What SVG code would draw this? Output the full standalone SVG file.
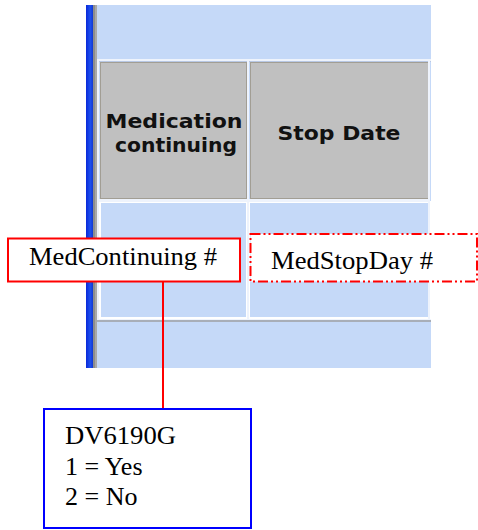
<svg xmlns="http://www.w3.org/2000/svg" width="478" height="530" viewBox="0 0 478 530">
  <defs>
    <linearGradient id="stripe" x1="0" y1="0" x2="1" y2="0">
      <stop offset="0" stop-color="#0a28d8"/>
      <stop offset="0.6" stop-color="#1c50f0"/>
      <stop offset="1" stop-color="#1238d0"/>
    </linearGradient>
  </defs>
  <style>
    .hdr { font-family: "DejaVu Sans", Verdana, sans-serif; font-weight: bold; font-size: 19px; fill: #111; }
    .lbl { font-family: "Liberation Serif", "Times New Roman", serif; font-size: 26px; fill: #000; }
    .cellG { fill: #c0c0c0; stroke: #a29e94; stroke-width: 1; }
    .cellB { fill: #c5d9f8; stroke: #ffffff; stroke-width: 2; }
    .conn { stroke: #ff0000; stroke-width: 2; fill: none; }
  </style>
  <rect width="478" height="530" fill="#ffffff"/>

  <!-- form panel -->
  <g id="panel">
    <rect x="86" y="5" width="345" height="363" fill="#c5d9f8"/>
    <rect x="86" y="5" width="7" height="363" fill="url(#stripe)"/>
    <rect x="93" y="5" width="2" height="363" fill="#8c8c8c"/>
    <rect x="95" y="5" width="2" height="363" fill="#a8a8a8"/>
    <!-- grid lines -->
    <rect x="97" y="59" width="334" height="2" fill="#eef3fc"/>
    <rect x="97" y="61" width="334" height="1" fill="#b8c8e4"/>
    <rect x="97" y="61" width="2" height="258" fill="#eef3fc"/>
    <rect x="97" y="318" width="334" height="2" fill="#eef3fc"/>
    <rect x="97" y="320" width="334" height="2" fill="#a8aeb8"/>
  </g>

  <g id="hdr-med">
    <rect class="cellG" x="100.5" y="62.5" width="146" height="136"/>
    <text class="hdr" x="174" y="128" text-anchor="middle" textLength="137" lengthAdjust="spacingAndGlyphs">Medication</text>
    <text class="hdr" x="176" y="152" text-anchor="middle" textLength="122" lengthAdjust="spacingAndGlyphs">continuing</text>
  </g>

  <g id="hdr-stop">
    <rect class="cellG" x="250.5" y="62.5" width="178" height="136"/>
    <text class="hdr" x="339" y="140" text-anchor="middle" textLength="123" lengthAdjust="spacingAndGlyphs">Stop Date</text>
  </g>

  <g id="cell-med">
    <rect class="cellB" x="100" y="202" width="147" height="116"/>
  </g>
  <g id="cell-stop">
    <rect class="cellB" x="249" y="202" width="181" height="116"/>
  </g>
  <rect x="247" y="61" width="2" height="258" fill="#eef3fc"/>
  <rect x="428" y="61" width="2" height="258" fill="#eef3fc"/>
  <rect x="99" y="199" width="331" height="3" fill="#eef3fc"/>

  <!-- connectors -->
  <g id="connectors">
    <line class="conn" x1="163" y1="282" x2="163" y2="408"/>
  </g>

  <g id="med-continuing">
    <rect x="8" y="238.5" width="232" height="43" fill="#ffffff" stroke="#ff0000" stroke-width="2"/>
    <text class="lbl" x="29" y="265" textLength="188" lengthAdjust="spacingAndGlyphs">MedContinuing #</text>
  </g>

  <g id="med-stop-day">
    <rect x="250.5" y="234" width="226.5" height="47.5" fill="#ffffff" stroke="#ff0000" stroke-width="2" stroke-dasharray="10 3 2 3 2 3"/>
    <text class="lbl" x="271" y="269" textLength="162" lengthAdjust="spacingAndGlyphs">MedStopDay #</text>
  </g>

  <g id="dv6190g">
    <rect x="44" y="409" width="207" height="119" fill="#ffffff" stroke="#0000ff" stroke-width="2"/>
    <text class="lbl" x="65" y="444" textLength="111" lengthAdjust="spacingAndGlyphs">DV6190G</text>
    <text class="lbl" x="65" y="475">1 = Yes</text>
    <text class="lbl" x="65" y="505">2 = No</text>
  </g>
</svg>
